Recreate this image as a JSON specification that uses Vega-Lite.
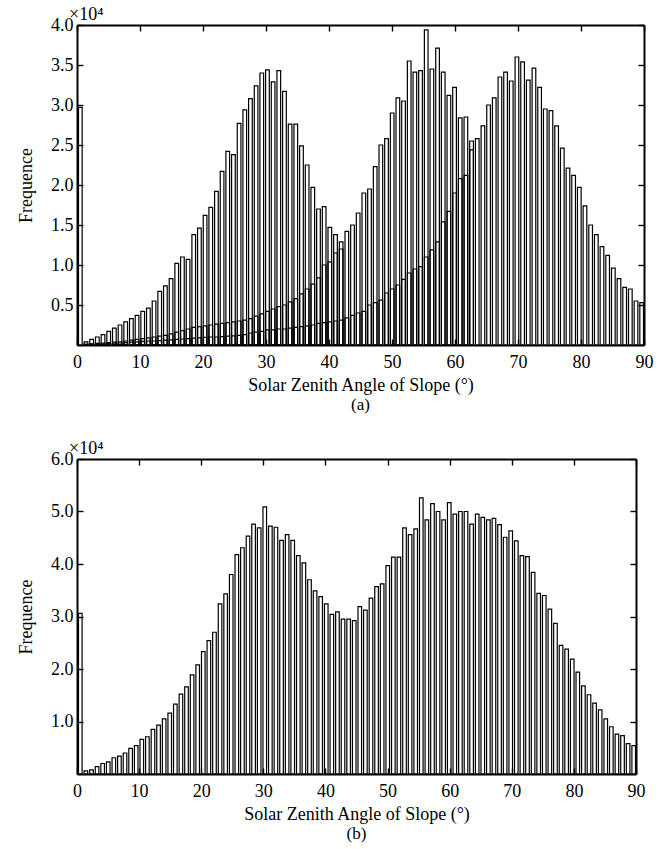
{
  "$schema": "https://vega.github.io/schema/vega-lite/v6.json",
  "background": "white",
  "padding": {"left": 17, "top": 6, "right": 5, "bottom": 5},
  "spacing": 27,
  "config": {
    "view": {"stroke": null},
    "font": "Liberation Serif",
    "axis": {
      "grid": false,
      "domainColor": "black",
      "domainWidth": 2,
      "tickColor": "black",
      "tickWidth": 1.4,
      "tickSize": -6,
      "labelFont": "Liberation Serif",
      "labelFontSize": 18,
      "labelColor": "black",
      "labelFlush": false,
      "labelOverlap": false,
      "titleFont": "Liberation Serif",
      "titleFontSize": 18,
      "titleFontWeight": "normal",
      "titleColor": "black"
    },
    "title": {"font": "Liberation Serif", "fontSize": 17, "fontWeight": "normal", "color": "black"}
  },
  "datasets": {
    "a": [
      {"s":"A","lo":0,"hi":0.9,"f":2.97},{"s":"A","lo":0.9,"hi":1.8,"f":0.04},{"s":"A","lo":1.8,"hi":2.7,"f":0.07},{"s":"A","lo":2.7,"hi":3.6,"f":0.10},{"s":"A","lo":3.6,"hi":4.5,"f":0.13},{"s":"A","lo":4.5,"hi":5.4,"f":0.17},{"s":"A","lo":5.4,"hi":6.3,"f":0.21},{"s":"A","lo":6.3,"hi":7.2,"f":0.25},{"s":"A","lo":7.2,"hi":8.1,"f":0.29},{"s":"A","lo":8.1,"hi":9,"f":0.33},
      {"s":"A","lo":9,"hi":9.9,"f":0.37},{"s":"A","lo":9.9,"hi":10.8,"f":0.42},{"s":"A","lo":10.8,"hi":11.7,"f":0.46},{"s":"A","lo":11.7,"hi":12.6,"f":0.55},{"s":"A","lo":12.6,"hi":13.5,"f":0.67},{"s":"A","lo":13.5,"hi":14.4,"f":0.74},{"s":"A","lo":14.4,"hi":15.3,"f":0.83},{"s":"A","lo":15.3,"hi":16.2,"f":1.02},{"s":"A","lo":16.2,"hi":17.1,"f":1.10},{"s":"A","lo":17.1,"hi":18,"f":1.07},
      {"s":"A","lo":18,"hi":18.9,"f":1.38},{"s":"A","lo":18.9,"hi":19.8,"f":1.46},{"s":"A","lo":19.8,"hi":20.7,"f":1.62},{"s":"A","lo":20.7,"hi":21.6,"f":1.72},{"s":"A","lo":21.6,"hi":22.5,"f":1.92},{"s":"A","lo":22.5,"hi":23.4,"f":2.17},{"s":"A","lo":23.4,"hi":24.3,"f":2.42},{"s":"A","lo":24.3,"hi":25.2,"f":2.38},{"s":"A","lo":25.2,"hi":26.1,"f":2.77},{"s":"A","lo":26.1,"hi":27,"f":2.94},
      {"s":"A","lo":27,"hi":27.9,"f":3.08},{"s":"A","lo":27.9,"hi":28.8,"f":3.24},{"s":"A","lo":28.8,"hi":29.7,"f":3.40},{"s":"A","lo":29.7,"hi":30.6,"f":3.44},{"s":"A","lo":30.6,"hi":31.5,"f":3.29},{"s":"A","lo":31.5,"hi":32.4,"f":3.43},{"s":"A","lo":32.4,"hi":33.3,"f":3.17},{"s":"A","lo":33.3,"hi":34.2,"f":2.76},{"s":"A","lo":34.2,"hi":35.1,"f":2.76},{"s":"A","lo":35.1,"hi":36,"f":2.49},
      {"s":"A","lo":36,"hi":36.9,"f":2.25},{"s":"A","lo":36.9,"hi":37.8,"f":1.97},{"s":"A","lo":37.8,"hi":38.7,"f":1.70},{"s":"A","lo":38.7,"hi":39.6,"f":1.73},{"s":"A","lo":39.6,"hi":40.5,"f":1.47},{"s":"A","lo":40.5,"hi":41.4,"f":1.38},{"s":"A","lo":41.4,"hi":42.3,"f":1.20},

      {"s":"B","lo":0.9,"hi":1.8,"f":0.01},{"s":"B","lo":1.8,"hi":2.7,"f":0.015},{"s":"B","lo":2.7,"hi":3.6,"f":0.02},{"s":"B","lo":3.6,"hi":4.5,"f":0.025},{"s":"B","lo":4.5,"hi":5.4,"f":0.03},{"s":"B","lo":5.4,"hi":6.3,"f":0.035},{"s":"B","lo":6.3,"hi":7.2,"f":0.04},{"s":"B","lo":7.2,"hi":8.1,"f":0.05},{"s":"B","lo":8.1,"hi":9,"f":0.06},
      {"s":"B","lo":9,"hi":9.9,"f":0.07},{"s":"B","lo":9.9,"hi":10.8,"f":0.08},{"s":"B","lo":10.8,"hi":11.7,"f":0.09},{"s":"B","lo":11.7,"hi":12.6,"f":0.10},{"s":"B","lo":12.6,"hi":13.5,"f":0.11},{"s":"B","lo":13.5,"hi":14.4,"f":0.12},{"s":"B","lo":14.4,"hi":15.3,"f":0.14},{"s":"B","lo":15.3,"hi":16.2,"f":0.16},{"s":"B","lo":16.2,"hi":17.1,"f":0.18},{"s":"B","lo":17.1,"hi":18,"f":0.20},
      {"s":"B","lo":18,"hi":18.9,"f":0.22},{"s":"B","lo":18.9,"hi":19.8,"f":0.23},{"s":"B","lo":19.8,"hi":20.7,"f":0.24},{"s":"B","lo":20.7,"hi":21.6,"f":0.25},{"s":"B","lo":21.6,"hi":22.5,"f":0.26},{"s":"B","lo":22.5,"hi":23.4,"f":0.27},{"s":"B","lo":23.4,"hi":24.3,"f":0.28},{"s":"B","lo":24.3,"hi":25.2,"f":0.29},{"s":"B","lo":25.2,"hi":26.1,"f":0.30},{"s":"B","lo":26.1,"hi":27,"f":0.31},
      {"s":"B","lo":27,"hi":27.9,"f":0.33},{"s":"B","lo":27.9,"hi":28.8,"f":0.36},{"s":"B","lo":28.8,"hi":29.7,"f":0.39},{"s":"B","lo":29.7,"hi":30.6,"f":0.42},{"s":"B","lo":30.6,"hi":31.5,"f":0.45},{"s":"B","lo":31.5,"hi":32.4,"f":0.48},{"s":"B","lo":32.4,"hi":33.3,"f":0.50},{"s":"B","lo":33.3,"hi":34.2,"f":0.54},{"s":"B","lo":34.2,"hi":35.1,"f":0.58},{"s":"B","lo":35.1,"hi":36,"f":0.64},
      {"s":"B","lo":36,"hi":36.9,"f":0.70},{"s":"B","lo":36.9,"hi":37.8,"f":0.76},{"s":"B","lo":37.8,"hi":38.7,"f":0.84},{"s":"B","lo":38.7,"hi":39.6,"f":1.00},{"s":"B","lo":39.6,"hi":40.5,"f":1.04},{"s":"B","lo":40.5,"hi":41.4,"f":1.15},{"s":"B","lo":41.4,"hi":42.3,"f":1.29},{"s":"B","lo":42.3,"hi":43.2,"f":1.42},{"s":"B","lo":43.2,"hi":44.1,"f":1.50},{"s":"B","lo":44.1,"hi":45,"f":1.65},
      {"s":"B","lo":45,"hi":45.9,"f":1.90},{"s":"B","lo":45.9,"hi":46.8,"f":1.95},{"s":"B","lo":46.8,"hi":47.7,"f":2.23},{"s":"B","lo":47.7,"hi":48.6,"f":2.50},{"s":"B","lo":48.6,"hi":49.5,"f":2.58},{"s":"B","lo":49.5,"hi":50.4,"f":2.90},{"s":"B","lo":50.4,"hi":51.3,"f":3.09},{"s":"B","lo":51.3,"hi":52.2,"f":3.05},{"s":"B","lo":52.2,"hi":53.1,"f":3.55},{"s":"B","lo":53.1,"hi":54,"f":3.41},
      {"s":"B","lo":54,"hi":54.9,"f":3.43},{"s":"B","lo":54.9,"hi":55.8,"f":3.94},{"s":"B","lo":55.8,"hi":56.7,"f":3.45},{"s":"B","lo":56.7,"hi":57.6,"f":3.71},{"s":"B","lo":57.6,"hi":58.5,"f":3.41},{"s":"B","lo":58.5,"hi":59.4,"f":3.12},{"s":"B","lo":59.4,"hi":60.3,"f":3.22},{"s":"B","lo":60.3,"hi":61.2,"f":2.84},{"s":"B","lo":61.2,"hi":62.1,"f":2.85},{"s":"B","lo":62.1,"hi":63,"f":2.55},

      {"s":"C","lo":0.9,"hi":1.8,"f":0.005},{"s":"C","lo":1.8,"hi":2.7,"f":0.01},{"s":"C","lo":2.7,"hi":3.6,"f":0.012},{"s":"C","lo":3.6,"hi":4.5,"f":0.015},{"s":"C","lo":4.5,"hi":5.4,"f":0.02},{"s":"C","lo":5.4,"hi":6.3,"f":0.022},{"s":"C","lo":6.3,"hi":7.2,"f":0.025},{"s":"C","lo":7.2,"hi":8.1,"f":0.03},{"s":"C","lo":8.1,"hi":9,"f":0.035},
      {"s":"C","lo":9,"hi":9.9,"f":0.04},{"s":"C","lo":9.9,"hi":10.8,"f":0.045},{"s":"C","lo":10.8,"hi":11.7,"f":0.05},{"s":"C","lo":11.7,"hi":12.6,"f":0.05},{"s":"C","lo":12.6,"hi":13.5,"f":0.055},{"s":"C","lo":13.5,"hi":14.4,"f":0.06},{"s":"C","lo":14.4,"hi":15.3,"f":0.065},{"s":"C","lo":15.3,"hi":16.2,"f":0.07},{"s":"C","lo":16.2,"hi":17.1,"f":0.075},{"s":"C","lo":17.1,"hi":18,"f":0.08},
      {"s":"C","lo":18,"hi":18.9,"f":0.085},{"s":"C","lo":18.9,"hi":19.8,"f":0.09},{"s":"C","lo":19.8,"hi":20.7,"f":0.095},{"s":"C","lo":20.7,"hi":21.6,"f":0.10},{"s":"C","lo":21.6,"hi":22.5,"f":0.10},{"s":"C","lo":22.5,"hi":23.4,"f":0.105},{"s":"C","lo":23.4,"hi":24.3,"f":0.11},{"s":"C","lo":24.3,"hi":25.2,"f":0.115},{"s":"C","lo":25.2,"hi":26.1,"f":0.12},{"s":"C","lo":26.1,"hi":27,"f":0.13},
      {"s":"C","lo":27,"hi":27.9,"f":0.15},{"s":"C","lo":27.9,"hi":28.8,"f":0.16},{"s":"C","lo":28.8,"hi":29.7,"f":0.17},{"s":"C","lo":29.7,"hi":30.6,"f":0.19},{"s":"C","lo":30.6,"hi":31.5,"f":0.19},{"s":"C","lo":31.5,"hi":32.4,"f":0.20},{"s":"C","lo":32.4,"hi":33.3,"f":0.20},{"s":"C","lo":33.3,"hi":34.2,"f":0.21},{"s":"C","lo":34.2,"hi":35.1,"f":0.22},{"s":"C","lo":35.1,"hi":36,"f":0.23},
      {"s":"C","lo":36,"hi":36.9,"f":0.24},{"s":"C","lo":36.9,"hi":37.8,"f":0.25},{"s":"C","lo":37.8,"hi":38.7,"f":0.27},{"s":"C","lo":38.7,"hi":39.6,"f":0.28},{"s":"C","lo":39.6,"hi":40.5,"f":0.29},{"s":"C","lo":40.5,"hi":41.4,"f":0.30},{"s":"C","lo":41.4,"hi":42.3,"f":0.31},{"s":"C","lo":42.3,"hi":43.2,"f":0.34},{"s":"C","lo":43.2,"hi":44.1,"f":0.37},{"s":"C","lo":44.1,"hi":45,"f":0.40},
      {"s":"C","lo":45,"hi":45.9,"f":0.42},{"s":"C","lo":45.9,"hi":46.8,"f":0.50},{"s":"C","lo":46.8,"hi":47.7,"f":0.53},{"s":"C","lo":47.7,"hi":48.6,"f":0.56},{"s":"C","lo":48.6,"hi":49.5,"f":0.65},{"s":"C","lo":49.5,"hi":50.4,"f":0.70},{"s":"C","lo":50.4,"hi":51.3,"f":0.75},{"s":"C","lo":51.3,"hi":52.2,"f":0.82},{"s":"C","lo":52.2,"hi":53.1,"f":0.90},{"s":"C","lo":53.1,"hi":54,"f":0.95},
      {"s":"C","lo":54,"hi":54.9,"f":0.98},{"s":"C","lo":54.9,"hi":55.8,"f":1.10},{"s":"C","lo":55.8,"hi":56.7,"f":1.19},{"s":"C","lo":56.7,"hi":57.6,"f":1.29},{"s":"C","lo":57.6,"hi":58.5,"f":1.54},{"s":"C","lo":58.5,"hi":59.4,"f":1.67},{"s":"C","lo":59.4,"hi":60.3,"f":1.90},{"s":"C","lo":60.3,"hi":61.2,"f":2.08},{"s":"C","lo":61.2,"hi":62.1,"f":2.12},{"s":"C","lo":62.1,"hi":63,"f":2.44},
      {"s":"C","lo":63,"hi":63.9,"f":2.58},{"s":"C","lo":63.9,"hi":64.8,"f":2.74},{"s":"C","lo":64.8,"hi":65.7,"f":3.00},{"s":"C","lo":65.7,"hi":66.6,"f":3.09},{"s":"C","lo":66.6,"hi":67.5,"f":3.35},{"s":"C","lo":67.5,"hi":68.4,"f":3.41},{"s":"C","lo":68.4,"hi":69.3,"f":3.30},{"s":"C","lo":69.3,"hi":70.2,"f":3.60},{"s":"C","lo":70.2,"hi":71.1,"f":3.54},{"s":"C","lo":71.1,"hi":72,"f":3.31},
      {"s":"C","lo":72,"hi":72.9,"f":3.46},{"s":"C","lo":72.9,"hi":73.8,"f":3.22},{"s":"C","lo":73.8,"hi":74.7,"f":2.95},{"s":"C","lo":74.7,"hi":75.6,"f":2.93},{"s":"C","lo":75.6,"hi":76.5,"f":2.74},{"s":"C","lo":76.5,"hi":77.4,"f":2.46},{"s":"C","lo":77.4,"hi":78.3,"f":2.21},{"s":"C","lo":78.3,"hi":79.2,"f":2.12},{"s":"C","lo":79.2,"hi":80.1,"f":1.97},{"s":"C","lo":80.1,"hi":81,"f":1.74},
      {"s":"C","lo":81,"hi":81.9,"f":1.50},{"s":"C","lo":81.9,"hi":82.8,"f":1.38},{"s":"C","lo":82.8,"hi":83.7,"f":1.23},{"s":"C","lo":83.7,"hi":84.6,"f":1.12},{"s":"C","lo":84.6,"hi":85.5,"f":0.96},{"s":"C","lo":85.5,"hi":86.4,"f":0.83},{"s":"C","lo":86.4,"hi":87.3,"f":0.72},{"s":"C","lo":87.3,"hi":88.2,"f":0.70},{"s":"C","lo":88.2,"hi":89.1,"f":0.55},{"s":"C","lo":89.1,"hi":90,"f":0.53}
    ],
    "b": [
      {"s":"b","lo":0,"hi":0.9,"f":3.06},{"s":"b","lo":0.9,"hi":1.8,"f":0.06},{"s":"b","lo":1.8,"hi":2.7,"f":0.08},{"s":"b","lo":2.7,"hi":3.6,"f":0.14},{"s":"b","lo":3.6,"hi":4.5,"f":0.20},{"s":"b","lo":4.5,"hi":5.4,"f":0.23},{"s":"b","lo":5.4,"hi":6.3,"f":0.31},{"s":"b","lo":6.3,"hi":7.2,"f":0.34},{"s":"b","lo":7.2,"hi":8.1,"f":0.40},{"s":"b","lo":8.1,"hi":9,"f":0.49},
      {"s":"b","lo":9,"hi":9.9,"f":0.54},{"s":"b","lo":9.9,"hi":10.8,"f":0.66},{"s":"b","lo":10.8,"hi":11.7,"f":0.71},{"s":"b","lo":11.7,"hi":12.6,"f":0.85},{"s":"b","lo":12.6,"hi":13.5,"f":0.93},{"s":"b","lo":13.5,"hi":14.4,"f":1.05},{"s":"b","lo":14.4,"hi":15.3,"f":1.16},{"s":"b","lo":15.3,"hi":16.2,"f":1.33},{"s":"b","lo":16.2,"hi":17.1,"f":1.52},{"s":"b","lo":17.1,"hi":18,"f":1.66},
      {"s":"b","lo":18,"hi":18.9,"f":1.89},{"s":"b","lo":18.9,"hi":19.8,"f":2.08},{"s":"b","lo":19.8,"hi":20.7,"f":2.33},{"s":"b","lo":20.7,"hi":21.6,"f":2.54},{"s":"b","lo":21.6,"hi":22.5,"f":2.70},{"s":"b","lo":22.5,"hi":23.4,"f":3.24},{"s":"b","lo":23.4,"hi":24.3,"f":3.43},{"s":"b","lo":24.3,"hi":25.2,"f":3.80},{"s":"b","lo":25.2,"hi":26.1,"f":4.18},{"s":"b","lo":26.1,"hi":27,"f":4.31},
      {"s":"b","lo":27,"hi":27.9,"f":4.53},{"s":"b","lo":27.9,"hi":28.8,"f":4.76},{"s":"b","lo":28.8,"hi":29.7,"f":4.69},{"s":"b","lo":29.7,"hi":30.6,"f":5.09},{"s":"b","lo":30.6,"hi":31.5,"f":4.72},{"s":"b","lo":31.5,"hi":32.4,"f":4.70},{"s":"b","lo":32.4,"hi":33.3,"f":4.45},{"s":"b","lo":33.3,"hi":34.2,"f":4.56},{"s":"b","lo":34.2,"hi":35.1,"f":4.45},{"s":"b","lo":35.1,"hi":36,"f":4.16},
      {"s":"b","lo":36,"hi":36.9,"f":4.02},{"s":"b","lo":36.9,"hi":37.8,"f":3.70},{"s":"b","lo":37.8,"hi":38.7,"f":3.49},{"s":"b","lo":38.7,"hi":39.6,"f":3.38},{"s":"b","lo":39.6,"hi":40.5,"f":3.24},{"s":"b","lo":40.5,"hi":41.4,"f":3.04},{"s":"b","lo":41.4,"hi":42.3,"f":3.09},{"s":"b","lo":42.3,"hi":43.2,"f":2.95},{"s":"b","lo":43.2,"hi":44.1,"f":2.95},{"s":"b","lo":44.1,"hi":45,"f":2.92},
      {"s":"b","lo":45,"hi":45.9,"f":3.19},{"s":"b","lo":45.9,"hi":46.8,"f":3.12},{"s":"b","lo":46.8,"hi":47.7,"f":3.35},{"s":"b","lo":47.7,"hi":48.6,"f":3.57},{"s":"b","lo":48.6,"hi":49.5,"f":3.62},{"s":"b","lo":49.5,"hi":50.4,"f":3.97},{"s":"b","lo":50.4,"hi":51.3,"f":4.13},{"s":"b","lo":51.3,"hi":52.2,"f":4.13},{"s":"b","lo":52.2,"hi":53.1,"f":4.69},{"s":"b","lo":53.1,"hi":54,"f":4.56},
      {"s":"b","lo":54,"hi":54.9,"f":4.67},{"s":"b","lo":54.9,"hi":55.8,"f":5.26},{"s":"b","lo":55.8,"hi":56.7,"f":4.84},{"s":"b","lo":56.7,"hi":57.6,"f":5.15},{"s":"b","lo":57.6,"hi":58.5,"f":5.00},{"s":"b","lo":58.5,"hi":59.4,"f":4.84},{"s":"b","lo":59.4,"hi":60.3,"f":5.17},{"s":"b","lo":60.3,"hi":61.2,"f":4.95},{"s":"b","lo":61.2,"hi":62.1,"f":5.00},{"s":"b","lo":62.1,"hi":63,"f":5.00},
      {"s":"b","lo":63,"hi":63.9,"f":4.76},{"s":"b","lo":63.9,"hi":64.8,"f":4.95},{"s":"b","lo":64.8,"hi":65.7,"f":4.89},{"s":"b","lo":65.7,"hi":66.6,"f":4.84},{"s":"b","lo":66.6,"hi":67.5,"f":4.87},{"s":"b","lo":67.5,"hi":68.4,"f":4.75},{"s":"b","lo":68.4,"hi":69.3,"f":4.51},{"s":"b","lo":69.3,"hi":70.2,"f":4.63},{"s":"b","lo":70.2,"hi":71.1,"f":4.44},{"s":"b","lo":71.1,"hi":72,"f":4.16},
      {"s":"b","lo":72,"hi":72.9,"f":4.14},{"s":"b","lo":72.9,"hi":73.8,"f":3.84},{"s":"b","lo":73.8,"hi":74.7,"f":3.44},{"s":"b","lo":74.7,"hi":75.6,"f":3.40},{"s":"b","lo":75.6,"hi":76.5,"f":3.14},{"s":"b","lo":76.5,"hi":77.4,"f":2.87},{"s":"b","lo":77.4,"hi":78.3,"f":2.45},{"s":"b","lo":78.3,"hi":79.2,"f":2.38},{"s":"b","lo":79.2,"hi":80.1,"f":2.19},{"s":"b","lo":80.1,"hi":81,"f":1.94},
      {"s":"b","lo":81,"hi":81.9,"f":1.68},{"s":"b","lo":81.9,"hi":82.8,"f":1.51},{"s":"b","lo":82.8,"hi":83.7,"f":1.35},{"s":"b","lo":83.7,"hi":84.6,"f":1.22},{"s":"b","lo":84.6,"hi":85.5,"f":1.05},{"s":"b","lo":85.5,"hi":86.4,"f":0.90},{"s":"b","lo":86.4,"hi":87.3,"f":0.76},{"s":"b","lo":87.3,"hi":88.2,"f":0.73},{"s":"b","lo":88.2,"hi":89.1,"f":0.58},{"s":"b","lo":89.1,"hi":90,"f":0.54}
    ]
  },
  "vconcat": [
    {
      "width": 567,
      "height": 320,
      "title": {"text": "(a)", "orient": "bottom", "frame": "group", "offset": 3},
      "resolve": {"axis": {"x": "independent", "y": "independent"}},
      "layer": [
        {
          "data": {"name": "a"},
          "mark": {"type": "bar", "fillOpacity": 0, "stroke": "black", "strokeWidth": 1.2, "binSpacing": 2},
          "encoding": {
            "x": {"field": "lo", "type": "quantitative", "bin": "binned",
                  "scale": {"domain": [0, 90], "nice": false, "zero": false},
                  "axis": {"orient": "bottom", "values": [0,10,20,30,40,50,60,70,80,90], "format": "d",
                           "title": "Solar Zenith Angle of Slope (°)", "labelPadding": 14, "titlePadding": 5}},
            "x2": {"field": "hi"},
            "y": {"field": "f", "type": "quantitative", "stack": null,
                  "scale": {"domain": [0, 4], "nice": false},
                  "axis": {"orient": "left", "values": [0.5,1,1.5,2,2.5,3,3.5,4], "format": ".1f",
                           "title": "Frequence", "labelPadding": 10, "titlePadding": 15}}
          }
        },
        {
          "data": {"name": "a"},
          "mark": {"type": "point", "opacity": 0},
          "encoding": {
            "x": {"field": "lo", "type": "quantitative",
                  "scale": {"domain": [0, 90], "nice": false, "zero": false},
                  "axis": {"orient": "top", "values": [0,10,20,30,40,50,60,70,80,90], "labels": false, "title": null}},
            "y": {"field": "f", "type": "quantitative",
                  "scale": {"domain": [0, 4], "nice": false},
                  "axis": {"orient": "right", "values": [0.5,1,1.5,2,2.5,3,3.5,4], "labels": false, "title": null}}
          }
        },
        {
          "data": {"values": [{"label": "×10⁴"}]},
          "mark": {"type": "text", "align": "left", "baseline": "alphabetic", "dx": -8, "dy": -5, "fontSize": 18, "font": "Liberation Serif", "color": "black"},
          "encoding": {
            "x": {"datum": 0, "type": "quantitative", "axis": null},
            "y": {"datum": 4, "type": "quantitative", "axis": null},
            "text": {"field": "label"}
          }
        }
      ]
    },
    {
      "width": 559,
      "height": 315,
      "title": {"text": "(b)", "orient": "bottom", "frame": "group", "offset": 3},
      "resolve": {"axis": {"x": "independent", "y": "independent"}},
      "layer": [
        {
          "data": {"name": "b"},
          "mark": {"type": "bar", "fillOpacity": 0, "stroke": "black", "strokeWidth": 1.2, "binSpacing": 2},
          "encoding": {
            "x": {"field": "lo", "type": "quantitative", "bin": "binned",
                  "scale": {"domain": [0, 90], "nice": false, "zero": false},
                  "axis": {"orient": "bottom", "values": [0,10,20,30,40,50,60,70,80,90], "format": "d",
                           "title": "Solar Zenith Angle of Slope (°)", "labelPadding": 14, "titlePadding": 5}},
            "x2": {"field": "hi"},
            "y": {"field": "f", "type": "quantitative", "stack": null,
                  "scale": {"domain": [0, 6], "nice": false},
                  "axis": {"orient": "left", "values": [1,2,3,4,5,6], "format": ".1f",
                           "title": "Frequence", "labelPadding": 10, "titlePadding": 15}}
          }
        },
        {
          "data": {"name": "b"},
          "mark": {"type": "point", "opacity": 0},
          "encoding": {
            "x": {"field": "lo", "type": "quantitative",
                  "scale": {"domain": [0, 90], "nice": false, "zero": false},
                  "axis": {"orient": "top", "values": [0,10,20,30,40,50,60,70,80,90], "labels": false, "title": null}},
            "y": {"field": "f", "type": "quantitative",
                  "scale": {"domain": [0, 6], "nice": false},
                  "axis": {"orient": "right", "values": [1,2,3,4,5,6], "labels": false, "title": null}}
          }
        },
        {
          "data": {"values": [{"label": "×10⁴"}]},
          "mark": {"type": "text", "align": "left", "baseline": "alphabetic", "dx": -8, "dy": -5, "fontSize": 18, "font": "Liberation Serif", "color": "black"},
          "encoding": {
            "x": {"datum": 0, "type": "quantitative", "axis": null},
            "y": {"datum": 6, "type": "quantitative", "axis": null},
            "text": {"field": "label"}
          }
        }
      ]
    }
  ]
}
